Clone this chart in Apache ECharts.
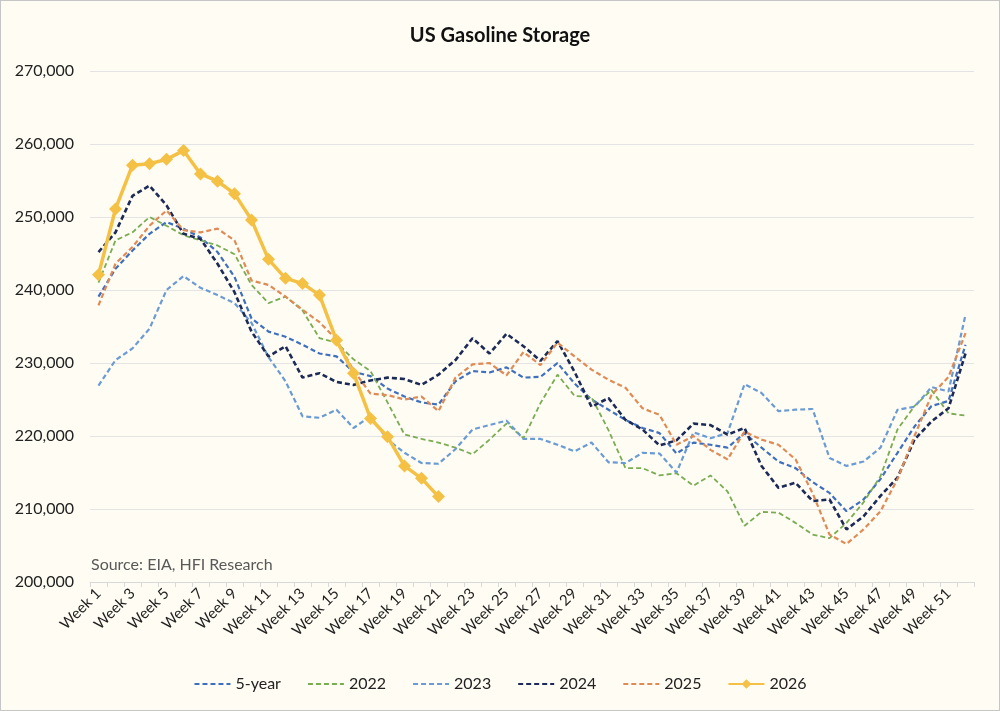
<!DOCTYPE html>
<html>
<head>
<meta charset="utf-8">
<title>US Gasoline Storage</title>
<script src="https://cdn.jsdelivr.net/npm/echarts@6/dist/echarts.min.js"></script>
<style>
  html, body { margin: 0; padding: 0; background: #fff; }
  #chart {
    width: 998px;
    height: 709px;
    border: 1px solid #c6c6c6;
    background: #fefcf3;
  }
</style>
</head>
<body>
<div id="chart"></div>
<script>
  // x轴
  const weeks = ['Week 1', 'Week 2', 'Week 3', 'Week 4', 'Week 5', 'Week 6', 'Week 7', 'Week 8', 'Week 9', 'Week 10',
    'Week 11', 'Week 12', 'Week 13', 'Week 14', 'Week 15', 'Week 16', 'Week 17', 'Week 18', 'Week 19', 'Week 20',
    'Week 21', 'Week 22', 'Week 23', 'Week 24', 'Week 25', 'Week 26', 'Week 27', 'Week 28', 'Week 29', 'Week 30',
    'Week 31', 'Week 32', 'Week 33', 'Week 34', 'Week 35', 'Week 36', 'Week 37', 'Week 38', 'Week 39', 'Week 40',
    'Week 41', 'Week 42', 'Week 43', 'Week 44', 'Week 45', 'Week 46', 'Week 47', 'Week 48', 'Week 49', 'Week 50',
    'Week 51', 'Week 52']

  // 各年份库存 (千桶)
  const fiveYear = [239100, 242900, 245400, 247700, 249300, 248400, 247200, 245200, 241800, 236100,
    234300, 233600, 232500, 231300, 230900, 228800, 228200, 226500, 225400, 224600,
    224300, 227500, 228900, 228700, 229400, 228000, 228100, 230000, 227200, 225000,
    223600, 222200, 221100, 220400, 217600, 219100, 218800, 218400, 220400, 218400,
    216500, 215600, 213700, 212200, 209700, 211300, 214100, 217700, 221300, 224100,
    224800, 232500]
  const y2022 = [241000, 246800, 247900, 250000, 248800, 247500, 246800, 246100, 244900, 240700,
    238200, 239100, 237200, 233400, 232800, 230500, 228900, 224600, 220200, 219600,
    219100, 218400, 217500, 219500, 221700, 219700, 224500, 228400, 225500, 225300,
    220800, 215600, 215600, 214600, 214900, 213200, 214600, 212400, 207700, 209600,
    209500, 208100, 206500, 206000, 208100, 210900, 214500, 220900, 224100, 226300,
    223100, 222800]
  const y2023 = [226900, 230400, 232000, 234700, 240000, 241900, 240300, 239300, 238200, 235500,
    230800, 227500, 222700, 222500, 223600, 221100, 222700, 219500, 217700, 216300,
    216200, 218200, 220900, 221500, 222100, 219600, 219600, 218800, 217900, 219100,
    216400, 216300, 217700, 217600, 215000, 220500, 219700, 220400, 227100, 225900,
    223400, 223600, 223700, 217000, 215900, 216500, 218400, 223600, 224000, 226700,
    226100, 236600]
  const y2024 = [245200, 247900, 252900, 254300, 251600, 247700, 247000, 243600, 239700, 234300,
    230900, 232300, 228000, 228600, 227400, 227000, 227600, 228000, 227800, 227000,
    228400, 230400, 233400, 231300, 234000, 232300, 230300, 233000, 228800, 224000,
    225200, 222200, 220900, 218700, 219400, 221700, 221500, 220200, 221100, 215900,
    212900, 213600, 211100, 211300, 207200, 209000, 211800, 214300, 219500, 222000,
    223800, 231300]
  const y2025 = [237900, 243600, 245900, 248800, 250900, 248200, 247900, 248400, 246800, 241300,
    240700, 239100, 237300, 235600, 233200, 229000, 225800, 225600, 225000, 225400,
    223400, 228000, 229800, 230000, 228300, 231500, 229700, 232800, 230900, 229100,
    227700, 226600, 223800, 222900, 218800, 220000, 218100, 216800, 220600, 219500,
    218800, 216800, 212200, 206500, 205200, 207200, 209700, 214100, 220000, 225600,
    228100, 234100]
  const y2026 = [242100, 251100, 257100, 257300, 257900, 259100, 255900, 254900, 253200, 249600,
    244200, 241600, 240900, 239300, 233100, 228600, 222400, 219900, 215900, 214200,
    211700]

  const chart = echarts.init(document.getElementById('chart'))
  const fontFamily = 'Lato, "Open Sans", sans-serif'

  // 虚线系列
  function dashedLine(name, data, color, width) {
    return {
      name: name,
      type: 'line',
      data: data,
      symbol: 'none',
      lineStyle: { color: color, width: width, type: [5, 3] },
      itemStyle: { color: color }
    }
  }

  // 图例: 虚线不显示标记点
  const hideMark = { itemStyle: { opacity: 0 } }

  const option = {
    animation: false,
    title: {
      text: 'US Gasoline Storage',
      left: 'center',
      top: 20,
      textStyle: { fontFamily: fontFamily, fontSize: 20, fontWeight: 'bold', color: '#111' }
    },
    grid: {
      top: 70,
      left: 89,
      right: 25,
      bottom: 128
    },
    legend: {
      bottom: 13,
      left: 'center',
      itemWidth: 36,
      itemHeight: 12,
      itemGap: 26,
      textStyle: { fontFamily: fontFamily, fontSize: 16, color: '#222' },
      data: [
        Object.assign({ name: '5-year' }, hideMark),
        Object.assign({ name: '2022' }, hideMark),
        Object.assign({ name: '2023' }, hideMark),
        Object.assign({ name: '2024' }, hideMark),
        Object.assign({ name: '2025' }, hideMark),
        { name: '2026' }
      ]
    },
    graphic: [{
      type: 'text',
      left: 90,
      top: 556,
      style: {
        text: 'Source: EIA, HFI Research',
        fontFamily: fontFamily,
        fontSize: 16,
        fill: '#595959'
      }
    }],
    xAxis: {
      type: 'category',
      data: weeks,
      boundaryGap: true,
      axisLine: { lineStyle: { color: '#d9d9d9', width: 1 } },
      axisTick: { show: true, interval: 0, length: 5, lineStyle: { color: '#d9d9d9' } },
      axisLabel: {
        interval: 1,
        rotate: 45,
        margin: 9,
        fontFamily: fontFamily,
        fontSize: 15,
        color: '#222'
      }
    },
    yAxis: {
      type: 'value',
      min: 200000,
      max: 270000,
      interval: 10000,
      axisLine: { show: false },
      axisTick: { show: false },
      axisLabel: {
        margin: 16,
        fontFamily: fontFamily,
        fontSize: 16,
        color: '#222',
        formatter: function (v) { return v.toLocaleString('en-US') }
      },
      splitLine: { lineStyle: { color: '#e4e4e4', width: 1 } }
    },
    series: [
      dashedLine('5-year', fiveYear, '#3f6fbf', 2.2),
      dashedLine('2022', y2022, '#7aac52', 1.8),
      dashedLine('2023', y2023, '#6b9bd4', 2.2),
      dashedLine('2024', y2024, '#1c2a57', 2.6),
      dashedLine('2025', y2025, '#e08a55', 2.2),
      {
        name: '2026',
        type: 'line',
        data: y2026,
        symbol: 'diamond',
        symbolSize: 13,
        showAllSymbol: true,
        lineStyle: { color: '#f4c145', width: 3.5 },
        itemStyle: { color: '#f4c145' },
        z: 5
      }
    ]
  }
  chart.setOption(option)
</script>
</body>
</html>
